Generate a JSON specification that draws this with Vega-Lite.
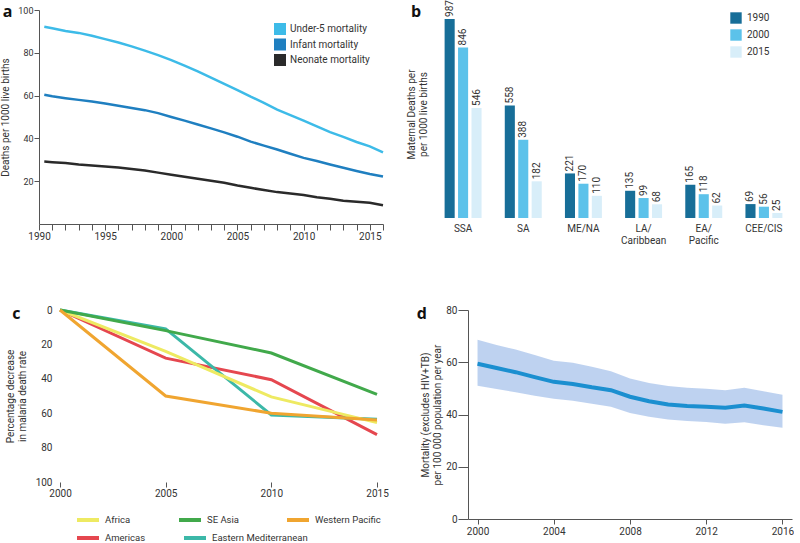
{
  "$schema": "https://vega.github.io/schema/vega-lite/v6.json",
  "padding": {"left": 0, "top": 0, "right": 0, "bottom": 0},
  "spacing": 59,
  "columns": 1,
  "align": "none",
  "resolve": {"scale": {"color": "independent", "stroke": "independent"}, "legend": {"color": "independent", "stroke": "independent"}},
  "config": {
    "font": "Roboto",
    "view": {"stroke": null},
    "axis": {"labelFont": "Roboto", "titleFont": "Roboto", "labelColor": "#333", "titleColor": "#333", "titleFontWeight": "normal", "labelFontSize": 9, "titleFontSize": 10, "domainColor": "#555", "tickColor": "#555", "grid": false},
    "legend": {"labelFont": "Roboto", "labelFontSize": 10, "labelColor": "#333"},
    "title": {"fontSize": 16, "fontWeight": "bold", "anchor": "start", "color": "#111", "font": "Open Sans"}
  },
  "concat": [
    {
      "spacing": 18,
      "resolve": {"scale": {"color": "independent"}, "legend": {"color": "independent"}},
      "hconcat": [
        {
          "width": 344, "height": 214,
          "title": {"text": "a", "frame": "bounds", "offset": 0, "dy": 14, "dx": 2},
          "data": {"values": [
            {"year": 1990.4, "series": "Under-5 mortality", "value": 92.2}, {"year": 1991, "series": "Under-5 mortality", "value": 91.5}, {"year": 1992, "series": "Under-5 mortality", "value": 90.2}, {"year": 1993, "series": "Under-5 mortality", "value": 89.3}, {"year": 1994, "series": "Under-5 mortality", "value": 88.0}, {"year": 1995, "series": "Under-5 mortality", "value": 86.4}, {"year": 1996, "series": "Under-5 mortality", "value": 84.8}, {"year": 1997, "series": "Under-5 mortality", "value": 83.0}, {"year": 1998, "series": "Under-5 mortality", "value": 81.0}, {"year": 1999, "series": "Under-5 mortality", "value": 78.9}, {"year": 2000, "series": "Under-5 mortality", "value": 76.6}, {"year": 2001, "series": "Under-5 mortality", "value": 74.0}, {"year": 2002, "series": "Under-5 mortality", "value": 71.3}, {"year": 2003, "series": "Under-5 mortality", "value": 68.4}, {"year": 2004, "series": "Under-5 mortality", "value": 65.5}, {"year": 2005, "series": "Under-5 mortality", "value": 62.6}, {"year": 2006, "series": "Under-5 mortality", "value": 59.5}, {"year": 2007, "series": "Under-5 mortality", "value": 56.6}, {"year": 2008, "series": "Under-5 mortality", "value": 53.4}, {"year": 2009, "series": "Under-5 mortality", "value": 50.9}, {"year": 2010, "series": "Under-5 mortality", "value": 48.3}, {"year": 2011, "series": "Under-5 mortality", "value": 45.6}, {"year": 2012, "series": "Under-5 mortality", "value": 42.9}, {"year": 2013, "series": "Under-5 mortality", "value": 40.7}, {"year": 2014, "series": "Under-5 mortality", "value": 38.3}, {"year": 2015, "series": "Under-5 mortality", "value": 36.3}, {"year": 2016, "series": "Under-5 mortality", "value": 33.5},
            {"year": 1990.4, "series": "Infant mortality", "value": 60.4}, {"year": 1991, "series": "Infant mortality", "value": 59.7}, {"year": 1992, "series": "Infant mortality", "value": 58.8}, {"year": 1993, "series": "Infant mortality", "value": 58.0}, {"year": 1994, "series": "Infant mortality", "value": 57.2}, {"year": 1995, "series": "Infant mortality", "value": 56.3}, {"year": 1996, "series": "Infant mortality", "value": 55.3}, {"year": 1997, "series": "Infant mortality", "value": 54.2}, {"year": 1998, "series": "Infant mortality", "value": 53.2}, {"year": 1999, "series": "Infant mortality", "value": 51.8}, {"year": 2000, "series": "Infant mortality", "value": 50.0}, {"year": 2001, "series": "Infant mortality", "value": 48.3}, {"year": 2002, "series": "Infant mortality", "value": 46.5}, {"year": 2003, "series": "Infant mortality", "value": 44.7}, {"year": 2004, "series": "Infant mortality", "value": 42.8}, {"year": 2005, "series": "Infant mortality", "value": 40.8}, {"year": 2006, "series": "Infant mortality", "value": 38.5}, {"year": 2007, "series": "Infant mortality", "value": 36.6}, {"year": 2008, "series": "Infant mortality", "value": 34.8}, {"year": 2009, "series": "Infant mortality", "value": 32.8}, {"year": 2010, "series": "Infant mortality", "value": 30.9}, {"year": 2011, "series": "Infant mortality", "value": 29.4}, {"year": 2012, "series": "Infant mortality", "value": 27.8}, {"year": 2013, "series": "Infant mortality", "value": 26.3}, {"year": 2014, "series": "Infant mortality", "value": 24.8}, {"year": 2015, "series": "Infant mortality", "value": 23.4}, {"year": 2016, "series": "Infant mortality", "value": 22.2},
            {"year": 1990.4, "series": "Neonate mortality", "value": 29.2}, {"year": 1991, "series": "Neonate mortality", "value": 28.9}, {"year": 1992, "series": "Neonate mortality", "value": 28.5}, {"year": 1993, "series": "Neonate mortality", "value": 27.8}, {"year": 1994, "series": "Neonate mortality", "value": 27.3}, {"year": 1995, "series": "Neonate mortality", "value": 26.9}, {"year": 1996, "series": "Neonate mortality", "value": 26.4}, {"year": 1997, "series": "Neonate mortality", "value": 25.7}, {"year": 1998, "series": "Neonate mortality", "value": 25.0}, {"year": 1999, "series": "Neonate mortality", "value": 24.0}, {"year": 2000, "series": "Neonate mortality", "value": 23.0}, {"year": 2001, "series": "Neonate mortality", "value": 22.1}, {"year": 2002, "series": "Neonate mortality", "value": 21.1}, {"year": 2003, "series": "Neonate mortality", "value": 20.2}, {"year": 2004, "series": "Neonate mortality", "value": 19.3}, {"year": 2005, "series": "Neonate mortality", "value": 18.0}, {"year": 2006, "series": "Neonate mortality", "value": 16.9}, {"year": 2007, "series": "Neonate mortality", "value": 15.9}, {"year": 2008, "series": "Neonate mortality", "value": 14.9}, {"year": 2009, "series": "Neonate mortality", "value": 14.3}, {"year": 2010, "series": "Neonate mortality", "value": 13.6}, {"year": 2011, "series": "Neonate mortality", "value": 12.5}, {"year": 2012, "series": "Neonate mortality", "value": 11.8}, {"year": 2013, "series": "Neonate mortality", "value": 10.9}, {"year": 2014, "series": "Neonate mortality", "value": 10.4}, {"year": 2015, "series": "Neonate mortality", "value": 9.9}, {"year": 2016, "series": "Neonate mortality", "value": 8.8}
          ]},
          "encoding": {
            "x": {"field": "year", "type": "quantitative", "scale": {"domain": [1990, 2016], "nice": false, "zero": false},
                  "axis": {"title": null, "values": [1990,1991,1992,1993,1994,1995,1996,1997,1998,1999,2000,2001,2002,2003,2004,2005,2006,2007,2008,2009,2010,2011,2012,2013,2014,2015,2016], "format": "d", "labelExpr": "datum.value % 5 == 0 ? datum.label : ''", "labelOverlap": false, "labelFlush": false, "tickSize": 6, "labelPadding": 1, "labelFontSize": 10}},
            "y": {"field": "value", "type": "quantitative", "scale": {"domain": [0, 100], "nice": false},
                  "axis": {"title": "Deaths per 1000 live births", "values": [20, 40, 60, 80, 100], "tickSize": 5, "labelPadding": 1, "labelFontSize": 9, "titlePadding": 7}},
            "color": {"field": "series", "type": "nominal", "scale": {"domain": ["Under-5 mortality", "Infant mortality", "Neonate mortality"], "range": ["#3dbbe8", "#1f7fc0", "#2a2a2a"]},
                      "legend": {"title": null, "orient": "none", "legendX": 235, "legendY": 13, "symbolType": "square", "symbolSize": 144, "symbolStrokeWidth": 0, "symbolOpacity": 1, "labelOffset": 4, "rowPadding": 3.5, "labelFontSize": 10}}
          },
          "layer": [
            {"transform": [{"filter": "datum.value < 0"}], "mark": {"type": "square", "filled": true, "opacity": 1}},
            {"mark": {"type": "line", "strokeWidth": 2.5}}
          ]
        },
        {
          "width": 361, "height": 208,
          "title": {"text": "b", "frame": "bounds", "offset": 0, "dy": 20, "dx": 5},
          "data": {"values": [
            {"region": "SSA", "year": "1990", "value": 987}, {"region": "SSA", "year": "2000", "value": 846}, {"region": "SSA", "year": "2015", "value": 546},
            {"region": "SA", "year": "1990", "value": 558}, {"region": "SA", "year": "2000", "value": 388}, {"region": "SA", "year": "2015", "value": 182},
            {"region": "ME/NA", "year": "1990", "value": 221}, {"region": "ME/NA", "year": "2000", "value": 170}, {"region": "ME/NA", "year": "2015", "value": 110},
            {"region": "LA/Caribbean", "year": "1990", "value": 135}, {"region": "LA/Caribbean", "year": "2000", "value": 99}, {"region": "LA/Caribbean", "year": "2015", "value": 68},
            {"region": "EA/Pacific", "year": "1990", "value": 165}, {"region": "EA/Pacific", "year": "2000", "value": 118}, {"region": "EA/Pacific", "year": "2015", "value": 62},
            {"region": "CEE/CIS", "year": "1990", "value": 69}, {"region": "CEE/CIS", "year": "2000", "value": 56}, {"region": "CEE/CIS", "year": "2015", "value": 25}
          ]},
          "encoding": {
            "x": {"field": "region", "type": "nominal", "sort": null, "scale": {"paddingInner": 0.33, "paddingOuter": 0.165},
                  "axis": {"title": null, "domain": false, "ticks": false, "labelAngle": 0, "labelPadding": 5, "labelFontSize": 10,
                           "labelExpr": "datum.label == 'LA/Caribbean' ? ['LA/', 'Caribbean'] : datum.label == 'EA/Pacific' ? ['EA/', 'Pacific'] : datum.label"}},
            "xOffset": {"field": "year", "type": "nominal", "scale": {"paddingInner": 0.25, "paddingOuter": 0.125}},
            "y": {"field": "value", "type": "quantitative", "scale": {"domain": [0, 1031.6], "nice": false},
                  "axis": {"title": ["Maternal Deaths per", "per 1000 live births"], "domain": false, "ticks": false, "labels": false, "titlePadding": 5, "titleFontSize": 10}}
          },
          "layer": [
            {"mark": {"type": "bar"},
             "encoding": {"color": {"field": "year", "type": "nominal", "scale": {"domain": ["1990", "2000", "2015"], "range": ["#176e98", "#5cc2ea", "#d8eef9"]},
                          "legend": {"title": null, "orient": "none", "legendX": 297, "legendY": 2, "symbolType": "square", "symbolSize": 130, "symbolStrokeWidth": 0, "symbolOpacity": 1, "labelOffset": 5, "rowPadding": 5, "labelFontSize": 10}}}},
            {"mark": {"type": "text", "angle": 270, "align": "left", "baseline": "middle", "dx": 2, "fontSize": 10, "color": "#333"},
             "encoding": {"text": {"field": "value", "type": "quantitative"}}}
          ]
        }
      ]
    },
    {
      "spacing": 27,
      "resolve": {"scale": {"color": "independent", "stroke": "independent"}, "legend": {"color": "independent", "stroke": "independent"}},
      "hconcat": [
        {
          "width": 338, "height": 172,
          "title": {"text": "c", "frame": "bounds", "offset": 0, "dy": 18, "dx": 7},
          "data": {"values": [
            {"region": "Africa", "year": 2000, "value": 0}, {"region": "Africa", "year": 2005, "value": 24}, {"region": "Africa", "year": 2010, "value": 50.5}, {"region": "Africa", "year": 2015, "value": 65.5},
            {"region": "SE Asia", "year": 2000, "value": 0}, {"region": "SE Asia", "year": 2005, "value": 12}, {"region": "SE Asia", "year": 2010, "value": 25}, {"region": "SE Asia", "year": 2015, "value": 49},
            {"region": "Americas", "year": 2000, "value": 0}, {"region": "Americas", "year": 2005, "value": 28}, {"region": "Americas", "year": 2010, "value": 40.5}, {"region": "Americas", "year": 2015, "value": 72.5},
            {"region": "Eastern Mediterranean", "year": 2000, "value": 0}, {"region": "Eastern Mediterranean", "year": 2005, "value": 11}, {"region": "Eastern Mediterranean", "year": 2010, "value": 61}, {"region": "Eastern Mediterranean", "year": 2015, "value": 63.5},
            {"region": "Western Pacific", "year": 2000, "value": 0}, {"region": "Western Pacific", "year": 2005, "value": 50}, {"region": "Western Pacific", "year": 2010, "value": 60}, {"region": "Western Pacific", "year": 2015, "value": 64}
          ]},
          "encoding": {
            "x": {"field": "year", "type": "quantitative", "scale": {"domain": [1999.006, 2015], "nice": false, "zero": false},
                  "axis": {"title": null, "values": [2000, 2005, 2010, 2015], "format": "d", "labelFlush": false, "domain": false, "tickSize": 5, "labelPadding": 1, "labelFontSize": 10}},
            "y": {"field": "value", "type": "quantitative", "scale": {"domain": [0, 100], "reverse": true, "nice": false},
                  "axis": {"title": ["Percentage decrease", "in malaria death rate"], "values": [0, 20, 40, 60, 80, 100], "grid": false, "domain": false, "ticks": false, "offset": -21, "labelPadding": 8, "labelFontSize": 10, "titlePadding": 8}}
          },
          "layer": [
            {"data": {"values": [{"value": 0}, {"value": 20}, {"value": 40}, {"value": 60}, {"value": 80}, {"value": 100}]},
             "mark": {"type": "rule", "color": "#e4e4e4", "strokeWidth": 1},
             "encoding": {"x": {"datum": 2000}, "x2": {"datum": 2015.1}}},
            {"transform": [{"filter": "datum.region == 'Americas' || datum.region == 'Eastern Mediterranean'"}],
             "mark": {"type": "line", "strokeWidth": 3},
             "encoding": {"color": {"field": "region", "type": "nominal", "scale": {"domain": ["Americas", "Eastern Mediterranean"], "range": ["#e5474f", "#3cb8a8"]},
                          "legend": {"title": null, "orient": "none", "legendX": 36, "legendY": 215, "direction": "horizontal", "columnPadding": 30, "symbolType": "stroke", "symbolSize": 484, "symbolStrokeWidth": 4, "labelOffset": 4, "labelFontSize": 9.5}}}},
            {"transform": [{"filter": "datum.region == 'Africa' || datum.region == 'SE Asia' || datum.region == 'Western Pacific'"}],
             "mark": {"type": "line", "strokeWidth": 3},
             "encoding": {"stroke": {"field": "region", "type": "nominal", "scale": {"domain": ["Africa", "SE Asia", "Western Pacific"], "range": ["#eeea62", "#41a94b", "#f0a530"]},
                          "legend": {"title": null, "orient": "none", "legendX": 36, "legendY": 197, "direction": "horizontal", "columnPadding": 40, "symbolType": "stroke", "symbolSize": 484, "symbolStrokeWidth": 4, "labelOffset": 4, "labelFontSize": 9.5}}}}
          ]
        },
        {
          "width": 324, "height": 209,
          "title": {"text": "d", "frame": "bounds", "offset": 0, "dy": 17, "dx": -4},
          "data": {"values": [
            {"year": 2000, "mid": 59.4, "lo": 51.0, "hi": 68.6}, {"year": 2001, "mid": 57.8, "lo": 49.8, "hi": 66.6}, {"year": 2002, "mid": 56.2, "lo": 48.5, "hi": 64.9}, {"year": 2003, "mid": 54.3, "lo": 47.2, "hi": 62.8}, {"year": 2004, "mid": 52.5, "lo": 46.0, "hi": 60.6}, {"year": 2005, "mid": 51.7, "lo": 45.3, "hi": 59.8}, {"year": 2006, "mid": 50.4, "lo": 44.1, "hi": 58.3}, {"year": 2007, "mid": 49.3, "lo": 43.0, "hi": 56.6}, {"year": 2008, "mid": 46.8, "lo": 40.6, "hi": 53.8}, {"year": 2009, "mid": 45.1, "lo": 39.1, "hi": 52.1}, {"year": 2010, "mid": 43.8, "lo": 38.1, "hi": 50.9}, {"year": 2011, "mid": 43.3, "lo": 37.5, "hi": 50.2}, {"year": 2012, "mid": 43.0, "lo": 37.1, "hi": 49.9}, {"year": 2013, "mid": 42.6, "lo": 36.5, "hi": 49.3}, {"year": 2014, "mid": 43.4, "lo": 37.0, "hi": 50.2}, {"year": 2015, "mid": 42.3, "lo": 35.9, "hi": 48.9}, {"year": 2016, "mid": 41.0, "lo": 34.9, "hi": 47.6}
          ]},
          "encoding": {
            "x": {"field": "year", "type": "quantitative", "scale": {"domain": [1999.5, 2016.5], "nice": false, "zero": false},
                  "axis": {"title": null, "values": [2000, 2004, 2008, 2012, 2016], "format": "d", "labelFlush": false, "tickSize": 5, "labelPadding": 2, "labelFontSize": 10}}
          },
          "layer": [
            {"mark": {"type": "area", "color": "#b7cdee", "opacity": 0.9},
             "encoding": {"y": {"field": "lo", "type": "quantitative", "scale": {"domain": [0, 80], "nice": false},
                                "axis": {"title": ["Mortality (excludes HIV+TB)", "per 100 000 population per year"], "values": [0, 20, 40, 60, 80], "tickSize": 10, "labelPadding": 1, "labelFontSize": 10, "titlePadding": 3}},
                          "y2": {"field": "hi"}}},
            {"mark": {"type": "line", "color": "#1b8fd0", "strokeWidth": 4},
             "encoding": {"y": {"field": "mid", "type": "quantitative"}}}
          ]
        }
      ]
    }
  ]
}
